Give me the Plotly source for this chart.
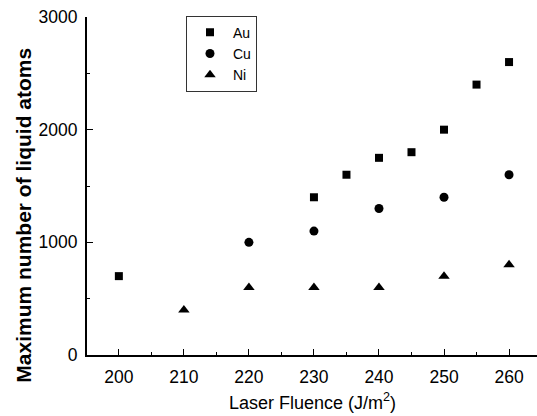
import plotly.graph_objects as go

au_x = [200, 230, 235, 240, 245, 250, 255, 260]
au_y = [700, 1400, 1600, 1750, 1800, 2000, 2400, 2600]
cu_x = [220, 230, 240, 250, 260]
cu_y = [1000, 1100, 1300, 1400, 1600]
ni_x = [210, 220, 230, 240, 250, 260]
ni_y = [400, 600, 600, 600, 700, 800]

x_ticks = [200, 210, 220, 230, 240, 250, 260]
y_ticks = [0, 1000, 2000, 3000]

FONT = "Liberation Sans, Arial, sans-serif"

fig = go.Figure()
fig.add_trace(go.Scatter(x=au_x, y=au_y, mode="markers", name="Au",
                         marker=dict(symbol="square", size=8, color="black")))
fig.add_trace(go.Scatter(x=cu_x, y=cu_y, mode="markers", name="Cu",
                         marker=dict(symbol="circle", size=9, color="black")))
fig.add_trace(go.Scatter(x=ni_x, y=ni_y, mode="markers", name="Ni",
                         marker=dict(symbol="triangle-up", size=10, color="black")))

fig.update_layout(
    width=537, height=416,
    margin=dict(l=87, r=0, t=17, b=61),
    paper_bgcolor="white", plot_bgcolor="white",
    font=dict(family=FONT, size=17.5, color="black"),
    showlegend=True,
    legend=dict(x=0.22, y=1.004, xanchor="left", yanchor="top",
                bordercolor="#333333", borderwidth=1, bgcolor="white",
                font=dict(size=14), tracegroupgap=0, itemwidth=36),
    xaxis=dict(range=[195.1, 264.3], tickvals=x_ticks,
               ticktext=[str(v) for v in x_ticks],
               ticks="inside", ticklen=6, tickwidth=1.2, tickcolor="black",
               showline=True, linecolor="black", linewidth=2,
               showgrid=False, zeroline=False, ticklabelstandoff=5,
               minor=dict(dtick=5, tick0=195, ticks="inside", ticklen=3,
                          tickwidth=1.2, tickcolor="black", showgrid=False)),
    yaxis=dict(range=[0, 3000], tickvals=y_ticks,
               ticktext=[str(v) for v in y_ticks],
               ticks="inside", ticklen=6, tickwidth=1.2, tickcolor="black",
               showline=True, linecolor="black", linewidth=2,
               showgrid=False, zeroline=False, ticklabelstandoff=4,
               minor=dict(dtick=500, tick0=0, ticks="inside", ticklen=3,
                          tickwidth=1.2, tickcolor="black", showgrid=False)),
    annotations=[
        dict(text="Laser Fluence (J/m<sup>2</sup>)", xref="paper", yref="paper",
             x=0.5, y=-0.177, xanchor="center", yanchor="bottom", showarrow=False,
             font=dict(size=18, family=FONT)),
        dict(text="<b>Maximum number of liquid atoms</b>", xref="paper", yref="paper",
             x=-0.143, y=0.414, xanchor="center", yanchor="middle", showarrow=False,
             textangle=-90, font=dict(size=21, family=FONT)),
    ],
)

fig.write_html("out.html")
